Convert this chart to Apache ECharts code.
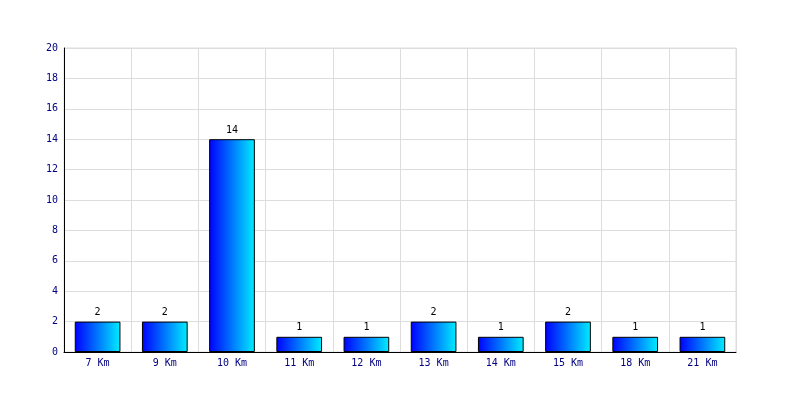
<!DOCTYPE html>
<html><head><meta charset="utf-8">
<script src="https://cdn.jsdelivr.net/npm/echarts@6/dist/echarts.min.js"></script>
<style>html,body{margin:0;padding:0;background:#fff}#c{width:800px;height:400px}</style>
</head><body><div id="c"></div>
<script>
const categories = ['7 Km','9 Km','10 Km','11 Km','12 Km','13 Km','14 Km','15 Km','18 Km','21 Km'];
const values = [2,2,14,1,1,2,1,2,1,1];
const yTicks = [0,2,4,6,8,10,12,14,16,18,20];

const font = 'DejaVu Sans Mono';
const chart = echarts.init(document.getElementById('c'), null, {renderer:'canvas'});
chart.setOption({
  animation:false,
  backgroundColor:'#fff',
  grid:{left:64,right:64,top:48,bottom:48,show:true,borderColor:'#dddddd',borderWidth:1},
  xAxis:{type:'category',data:categories,
    axisLine:{lineStyle:{color:'#000',width:1}},
    axisTick:{show:false},
    splitLine:{show:true,interval:0,lineStyle:{color:'#dddddd'}},
    axisLabel:{color:'#000080',fontFamily:font,fontSize:10,margin:6,interval:0}},
  yAxis:{type:'value',min:yTicks[0],max:yTicks[yTicks.length-1],interval:2,
    axisLine:{show:true,lineStyle:{color:'#000',width:1}},
    axisTick:{show:false},
    splitLine:{lineStyle:{color:'#dddddd'}},
    axisLabel:{color:'#000080',fontFamily:font,fontSize:10,margin:6}},
  series:[{type:'bar',data:values,barWidth:'68%',
    itemStyle:{borderColor:'#000',borderWidth:1,
      color:new echarts.graphic.LinearGradient(0,0,1,0,[{offset:0,color:'#0000ff'},{offset:1,color:'#00eeff'}])},
    label:{show:true,position:'top',color:'#000',fontFamily:font,fontSize:10,distance:4}}]
});
</script></body></html>
